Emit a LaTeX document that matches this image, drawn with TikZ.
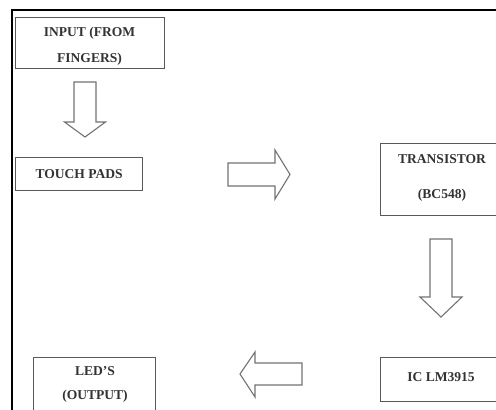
\documentclass[tikz,border=0pt]{standalone}
\usepackage{fontspec}
\setmainfont{Liberation Serif}
\begin{document}
\begin{tikzpicture}[x=1bp,y=-1bp,
  blockbox/.style={draw=black!65, line width=1.3bp, fill=white, inner sep=0pt, anchor=north west},
  lbl/.style={font=\fontsize{13.6}{16.3}\selectfont\bfseries, text=black!80, align=center, inner sep=0pt},
  barrow/.style={draw=black!55, line width=1.1bp, fill=white, line join=miter}]
\clip (0,0) rectangle (496,409);
\fill[white] (0,0) rectangle (496,409);
% frame
\coordinate (fbl) at (12,412);
\coordinate (ftl) at (12,10);
\coordinate (ftr) at (499,10);
\draw[line width=2bp, black] (fbl) -- (ftl) -- (ftr);
% boxes
\node[blockbox, minimum width=149bp, minimum height=51bp] (inbox) at (15,17) {};
\node[lbl] (intext) at (89.5,46.5) {INPUT (FROM\\[10pt]FINGERS)};
\node[blockbox, minimum width=127bp, minimum height=33bp] (touch) at (15,157) {};
\node[lbl] (touchtext) at (touch.center) {TOUCH PADS};
\node[blockbox, minimum width=125bp, minimum height=72bp] (trans) at (380,143) {};
\node[lbl] (transtext) at (442,178) {TRANSISTOR\\[18pt](BC548)};
\node[blockbox, minimum width=125bp, minimum height=44bp] (ic) at (380,357) {};
\node[lbl] (ictext) at (441,377) {IC LM3915};
\node[blockbox, minimum width=122bp, minimum height=70bp] (led) at (33,357) {};
\node[lbl] (ledtext) at (95,384.5) {LED'S\\[8pt](OUTPUT)};
% block arrows
\draw[barrow] (74,82) -- (96,82) -- (96,122) -- (105.5,122) -- (85,137) -- (64.5,122) -- (74,122) -- cycle;
\draw[barrow] (228,163) -- (275,163) -- (275,150) -- (290,174.5) -- (275,199) -- (275,186) -- (228,186) -- cycle;
\draw[barrow] (430,239) -- (452,239) -- (452,297) -- (462,297) -- (441,317) -- (420,297) -- (430,297) -- cycle;
\draw[barrow] (302,363) -- (255,363) -- (255,352) -- (240,374) -- (255,397) -- (255,385) -- (302,385) -- cycle;
\end{tikzpicture}
\end{document}
